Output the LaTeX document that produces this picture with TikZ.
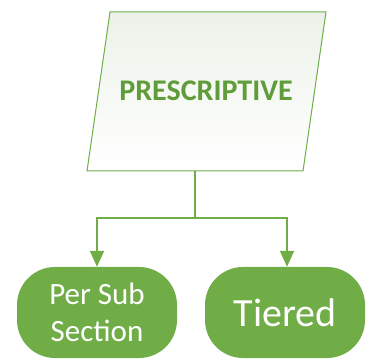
\documentclass[tikz,border=0pt]{standalone}
\usepackage{fontspec}
\setmainfont{Carlito}
\usetikzlibrary{arrows.meta}
\definecolor{ogreen}{RGB}{112,173,71}
\definecolor{tgreen}{RGB}{96,156,58}
\definecolor{pshade}{RGB}{236,242,233}
\begin{document}
\begin{tikzpicture}[x=1pt,y=1pt,
  conn/.style={draw=ogreen,line width=2pt},
  arr/.style={conn,-{Triangle[width=14pt,length=16pt]}},
  leaf/.style={fill=ogreen,rounded corners=38pt,text=white,align=center,inner sep=0pt,minimum height=91pt}]
\useasboundingbox (0,0) rectangle (367,359);
% parallelogram
\coordinate (ptl) at (110,347);
\coordinate (ptr) at (326,347);
\coordinate (pbr) at (303,188);
\coordinate (pbl) at (87,188);
\shade[top color=pshade,bottom color=white] (ptl) -- (ptr) -- (pbr) -- (pbl) -- cycle;
\draw[ogreen,line width=1pt] (ptl) -- (ptr) -- (pbr) -- (pbl) -- cycle;
\node[text=tgreen,font=\fontsize{30}{36}\selectfont\bfseries] (title) at (206,268) {PRESCRIPTIVE};
\coordinate (pb) at (195,188);
\coordinate (junc) at (195,141);
% leaves
\node[leaf,minimum width=160pt,font=\fontsize{31}{37}\selectfont] (left) at (97,46.5) {Per Sub\\Section};
\node[leaf,minimum width=160pt,font=\fontsize{40}{46}\selectfont] (right) at (285,46.5) {Tiered};
\draw[conn] (pb) -- (junc);
\draw[arr] (junc) -| (left.north);
\draw[arr] (junc) -| ([xshift=2pt]right.north);
\end{tikzpicture}
\end{document}
